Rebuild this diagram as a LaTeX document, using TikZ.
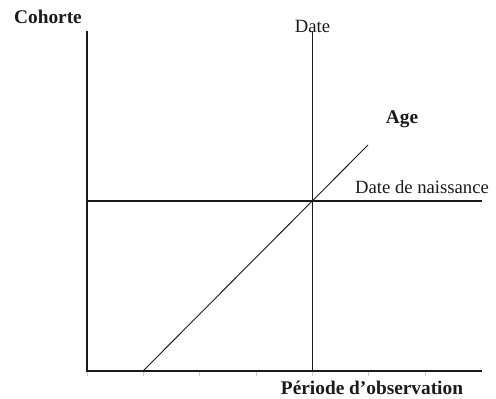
\documentclass[tikz,border=0pt]{standalone}
\usepackage{fontspec}
\setmainfont{Liberation Serif}
\usepackage{xcolor}
\definecolor{ink}{HTML}{1A1A1A}
\definecolor{tickgray}{HTML}{C8CCD4}

\begin{document}
\begin{tikzpicture}[x=0.75pt,y=-0.75pt,
    every node/.style={font=\fontsize{14}{16}\selectfont, color=ink, inner sep=0pt},
    boldlabel/.style={font=\fontsize{14.5}{16}\selectfont\bfseries},
    axisline/.style={line width=2.2pt, color=ink},
    refline/.style={line width=0.7pt, color=ink}]
          \useasboundingbox (0,0) rectangle (496,399);
          % axes
          \coordinate (O) at (87,371);
          \coordinate (ytop) at (87,31);
          \coordinate (xend) at (482,371);
          \foreach \tx in {87,143,199,256,312,368,425}
            \draw[color=tickgray, line width=0.6pt] (\tx,372) -- (\tx,376);
          \draw[axisline] (ytop) -- (O) -- (xend);
          % lines
          \coordinate (datetop) at (312,31);
          \coordinate (datebot) at (312,371);
          \coordinate (naisL) at (87,201);
          \coordinate (naisR) at (482,201);
          \coordinate (ageL) at (143,371);
          \coordinate (ageR) at (368,145);
          \draw[refline] (datetop) -- (datebot);
          \draw[line width=1.5pt, color=ink] (naisL) -- (naisR);
          \draw[refline] (ageL) -- (ageR);
          % labels
          \node[boldlabel] (cohorte) at (48,17) {Cohorte};
          \node (date) at (312.5,26) {Date};
          \node[boldlabel] (age) at (402,119) {Age};
          \node (naissance) at (422,187) {Date de naissance};
          \node[boldlabel] (periode) at (372,388) {Période d’observation};
        \end{tikzpicture}
\end{document}
